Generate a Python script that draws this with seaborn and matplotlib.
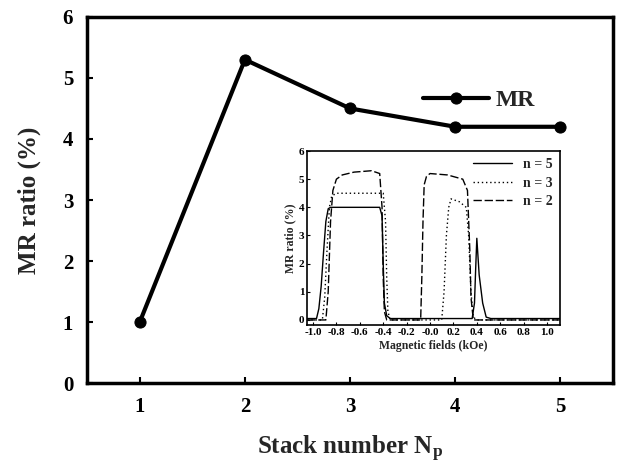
import matplotlib
matplotlib.use("Agg")
import matplotlib.pyplot as plt
import seaborn as sns
import pandas as pd
import numpy as np

# Main data
stack_number = [1, 2, 3, 4, 5]
mr_ratio = [1.0, 5.3, 4.5, 4.2, 4.2]

# Inset curves
field_n5 = [-1.05, -0.97, -0.95, -0.93, -0.91, -0.89, -0.87, -0.85, -0.60, -0.43, -0.41, -0.40, -0.39, -0.37, -0.34, 0.36, 0.38, 0.39, 0.40, 0.42, 0.45, 0.48, 0.52, 1.11]
mr_n5 =    [0.05, 0.05, 0.4, 1.2, 2.4, 3.5, 3.95, 4.0, 4.0, 4.0, 3.7, 2.0, 0.6, 0.15, 0.05, 0.05, 0.6, 1.8, 2.9, 1.6, 0.6, 0.1, 0.05, 0.05]

field_n3 = [-1.05, -0.92, -0.90, -0.88, -0.86, -0.84, -0.80, -0.60, -0.40, -0.38, -0.37, -0.36, -0.34, 0.10, 0.12, 0.14, 0.16, 0.18, 0.25, 0.31, 0.33, 0.35, 0.37, 0.40, 1.11]
mr_n3 =    [0.0, 0.0, 0.8, 2.5, 4.0, 4.4, 4.5, 4.5, 4.5, 3.5, 1.5, 0.3, 0.0, 0.0, 1.0, 3.0, 4.0, 4.3, 4.2, 4.0, 3.0, 1.0, 0.1, 0.0, 0.0]

field_n2 = [-1.05, -0.89, -0.87, -0.85, -0.83, -0.80, -0.75, -0.65, -0.50, -0.43, -0.41, -0.40, -0.39, -0.37, -0.08, -0.07, -0.06, -0.05, -0.03, 0.00, 0.15, 0.28, 0.32, 0.34, 0.35, 0.37, 1.11]
mr_n2 =    [0.0, 0.0, 1.0, 3.5, 4.6, 5.0, 5.15, 5.25, 5.3, 5.2, 4.0, 1.5, 0.3, 0.0, 0.0, 1.5, 3.5, 4.8, 5.1, 5.2, 5.15, 5.0, 4.6, 2.5, 0.8, 0.0, 0.0]

sns.set_theme(style="white")
plt.rcParams['font.family'] = ['Liberation Serif', 'DejaVu Serif']
plt.rcParams['font.weight'] = 'bold'
plt.rcParams['mathtext.fontset'] = 'custom'
plt.rcParams['mathtext.rm'] = 'Liberation Serif:bold'
plt.rcParams['mathtext.bf'] = 'Liberation Serif:bold'
plt.rcParams['mathtext.it'] = 'Liberation Serif:bold'

fig = plt.figure(figsize=(6.18, 4.69), dpi=100)
ax = fig.add_axes([0.141, 0.183, 0.851, 0.781])

main_df = pd.DataFrame({"N": stack_number, "MR": mr_ratio})
sns.lineplot(data=main_df, x="N", y="MR", ax=ax, color="black", linewidth=3,
             marker="o", markersize=8, markeredgecolor="black", label="MR")
ax.set_xlim(0.5, 5.5)
ax.set_ylim(0, 6)
ax.set_xticks(stack_number)
ax.set_yticks([0, 1, 2, 3, 4, 5, 6])
ax.tick_params(axis='both', direction='in', length=4, width=1.5, labelsize=15,
               bottom=True, left=True, top=False, right=False, pad=10, colors='black')
for lab in ax.get_xticklabels() + ax.get_yticklabels():
    lab.set_fontweight('bold')
for s in ax.spines.values():
    s.set_linewidth(2.5)
    s.set_color('black')
ax.set_xlabel(r"Stack number N$_\mathrm{p}$", fontsize=18, fontweight='bold', labelpad=12)
ax.set_ylabel("MR ratio (%)", fontsize=18, fontweight='bold', labelpad=16)
leg = ax.legend(loc='center', bbox_to_anchor=(0.745, 0.773), frameon=False,
                prop={'size': 17, 'weight': 'bold'}, handlelength=2.8, handletextpad=0.3)

# Inset
axin = fig.add_axes([0.497, 0.307, 0.409, 0.371])
inset_df = pd.concat([
    pd.DataFrame({"H": field_n5, "MR": mr_n5, "n": "n = 5"}),
    pd.DataFrame({"H": field_n3, "MR": mr_n3, "n": "n = 3"}),
    pd.DataFrame({"H": field_n2, "MR": mr_n2, "n": "n = 2"}),
], ignore_index=True)
sns.lineplot(data=inset_df, x="H", y="MR", style="n", ax=axin, color="black",
             linewidth=1.0, sort=False, estimator=None,
             style_order=["n = 5", "n = 3", "n = 2"],
             dashes={"n = 5": "", "n = 3": (1, 2), "n = 2": (6, 2)})
axin.set_xlim(-1.05, 1.11)
axin.set_ylim(-0.18, 6)
axin.set_xticks(np.round(np.arange(-1.0, 1.01, 0.2), 1))
axin.set_xticklabels([f"{v:.1f}" for v in np.arange(-1.0, 1.01, 0.2)])
axin.set_yticks([0, 1, 2, 3, 4, 5, 6])
axin.tick_params(axis='both', direction='in', length=2, width=0.8, labelsize=8,
                 bottom=True, left=True, pad=2, colors='black')
for lab in axin.get_xticklabels() + axin.get_yticklabels():
    lab.set_fontweight('bold')
for s in axin.spines.values():
    s.set_linewidth(1.2)
    s.set_color('black')
axin.set_xlabel("Magnetic fields (kOe)", fontsize=8.5, fontweight='bold', labelpad=2)
axin.set_ylabel("MR ratio (%)", fontsize=8.5, fontweight='bold', labelpad=2)
axin.legend(loc='upper right', frameon=False, prop={'size': 10, 'weight': 'bold'},
            handlelength=2.8, handletextpad=0.8, labelspacing=0.4, borderaxespad=0.1, title=None)

fig.savefig("out.png", dpi=100)
